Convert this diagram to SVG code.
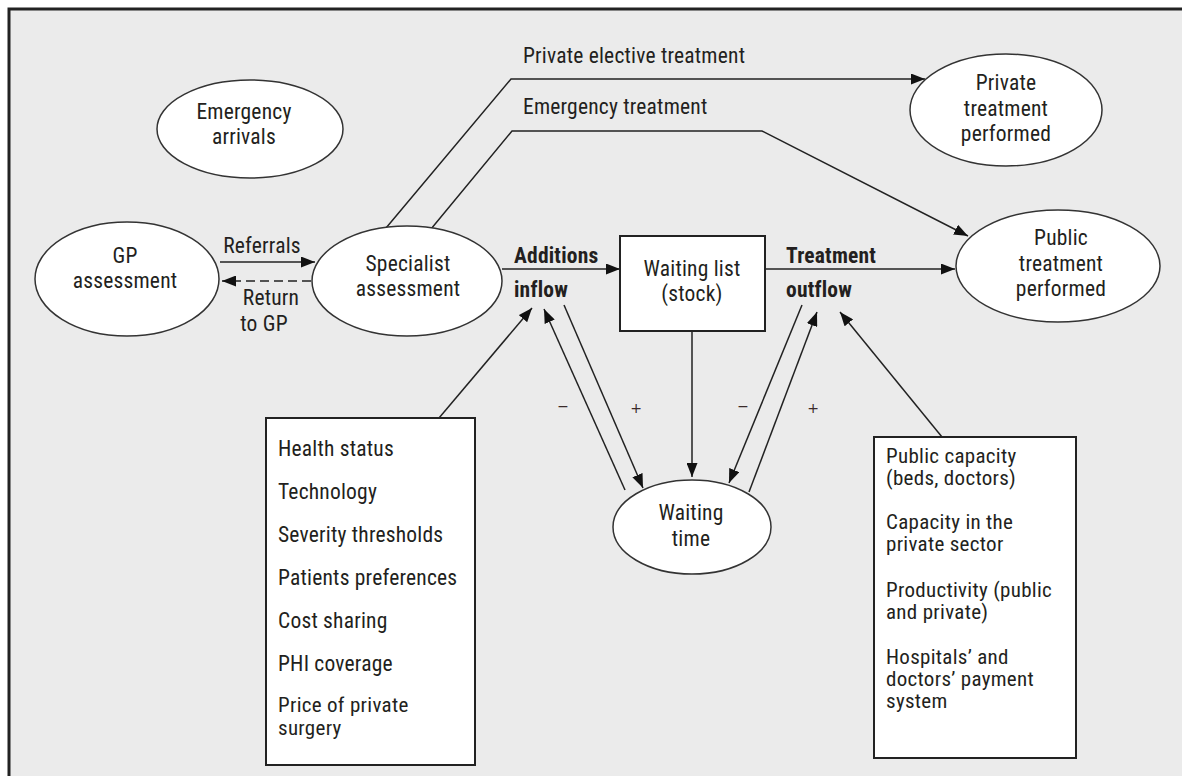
<svg xmlns="http://www.w3.org/2000/svg" width="1182" height="776" viewBox="0 0 1182 776">
<style>
text{font-family:"Liberation Sans Narrow","Roboto Condensed","Liberation Sans",sans-serif;font-size:21.5px;letter-spacing:0.2px;fill:#231f20}
.c{text-anchor:middle}
.b{font-weight:bold}
.node{fill:#fff;stroke:#333;stroke-width:1.5}
.box{fill:#fff;stroke:#222;stroke-width:2}
.ln{fill:none;stroke:#222;stroke-width:1.5}
.sg{font-family:"DejaVu Sans",sans-serif;font-size:14px;fill:#3a2a2a;letter-spacing:0}
.sm{font-size:21px;letter-spacing:0.3px}
</style>
<defs>
<marker id="ah" markerUnits="userSpaceOnUse" markerWidth="15" markerHeight="11" refX="14" refY="5.5" orient="auto">
<path d="M0,0 L14,5.5 L0,11 z" fill="#111"/>
</marker>
</defs>
<rect x="0" y="0" width="1182" height="776" fill="#fff"/>
<rect x="9" y="9" width="1200" height="800" fill="#ebebeb" stroke="#222" stroke-width="3"/>

<g id="connectors">
<line class="ln" x1="220" y1="262" x2="315" y2="262" marker-end="url(#ah)"/>
<line class="ln" x1="311" y1="281" x2="222" y2="281" stroke-dasharray="9,5" marker-end="url(#ah)"/>
<line class="ln" x1="502" y1="269" x2="620" y2="269" marker-end="url(#ah)"/>
<line class="ln" x1="765" y1="269" x2="955" y2="269" marker-end="url(#ah)"/>
<polyline class="ln" points="386,228 511,79 925,79" marker-end="url(#ah)"/>
<polyline class="ln" points="431,229 512,131 762,131 968,236" marker-end="url(#ah)"/>
<line class="ln" x1="692" y1="331" x2="692" y2="477" marker-end="url(#ah)"/>
<line class="ln" x1="439" y1="418" x2="532" y2="308" marker-end="url(#ah)"/>
<line class="ln" x1="625" y1="490" x2="544" y2="309" marker-end="url(#ah)"/>
<line class="ln" x1="564" y1="305" x2="643" y2="488" marker-end="url(#ah)"/>
<line class="ln" x1="802" y1="305" x2="729" y2="483" marker-end="url(#ah)"/>
<line class="ln" x1="749" y1="492" x2="817" y2="312" marker-end="url(#ah)"/>
<line class="ln" x1="942" y1="437" x2="840" y2="312" marker-end="url(#ah)"/>
<text x="262" y="253" class="c">Referrals</text>
<text x="271" y="305" class="c">Return</text>
<text x="264" y="331" class="c">to GP</text>
<text x="514" y="263" class="b">Additions</text>
<text x="514" y="297" class="b">inflow</text>
<text x="786" y="263" class="b">Treatment</text>
<text x="786" y="297" class="b">outflow</text>
<text x="523" y="63">Private elective treatment</text>
<text x="523" y="114">Emergency treatment</text>
<text x="563" y="411" class="c sg">−</text>
<text x="636" y="413" class="c sg">+</text>
<text x="743" y="411" class="c sg">−</text>
<text x="813" y="413" class="c sg">+</text>
</g>

<g id="emergency-arrivals">
<ellipse class="node" cx="250" cy="129" rx="93" ry="49"/>
<text x="244" y="119" class="c">Emergency</text>
<text x="244" y="144" class="c">arrivals</text>
</g>
<g id="gp-assessment">
<ellipse class="node" cx="127" cy="279" rx="92" ry="57"/>
<text x="125" y="263" class="c">GP</text>
<text x="125" y="288" class="c">assessment</text>
</g>
<g id="specialist-assessment">
<ellipse class="node" cx="407" cy="281" rx="95" ry="55"/>
<text x="408" y="271" class="c">Specialist</text>
<text x="408" y="296" class="c">assessment</text>
</g>
<g id="waiting-list">
<rect class="box" x="620" y="236" width="145" height="95"/>
<text x="692" y="276" class="c">Waiting list</text>
<text x="692" y="301" class="c">(stock)</text>
</g>
<g id="private-treatment">
<ellipse class="node" cx="1006" cy="110" rx="96" ry="56"/>
<text x="1006" y="90" class="c">Private</text>
<text x="1006" y="116" class="c">treatment</text>
<text x="1006" y="141" class="c">performed</text>
</g>
<g id="public-treatment">
<ellipse class="node" cx="1058" cy="266" rx="102" ry="56"/>
<text x="1061" y="245" class="c">Public</text>
<text x="1061" y="271" class="c">treatment</text>
<text x="1061" y="296" class="c">performed</text>
</g>
<g id="waiting-time">
<ellipse class="node" cx="692" cy="527" rx="79" ry="47"/>
<text x="691" y="520" class="c">Waiting</text>
<text x="691" y="546" class="c">time</text>
</g>
<g id="demand-factors">
<rect class="box" x="266" y="418" width="209" height="347"/>
<text x="278" y="456">Health status</text>
<text x="278" y="499">Technology</text>
<text x="278" y="542">Severity thresholds</text>
<text x="278" y="585">Patients preferences</text>
<text x="278" y="628">Cost sharing</text>
<text x="278" y="671">PHI coverage</text>
<text x="278" y="712" class="sm">Price of private</text>
<text x="278" y="735" class="sm">surgery</text>
</g>
<g id="supply-factors">
<rect class="box" x="874" y="437" width="202" height="321"/>
<text x="886" y="463" class="sm">Public capacity</text>
<text x="886" y="485" class="sm">(beds, doctors)</text>
<text x="886" y="529" class="sm">Capacity in the</text>
<text x="886" y="551" class="sm">private sector</text>
<text x="886" y="597" class="sm">Productivity (public</text>
<text x="886" y="619" class="sm">and private)</text>
<text x="886" y="664" class="sm">Hospitals’ and</text>
<text x="886" y="686" class="sm">doctors’ payment</text>
<text x="886" y="708" class="sm">system</text>
</g>
</svg>
